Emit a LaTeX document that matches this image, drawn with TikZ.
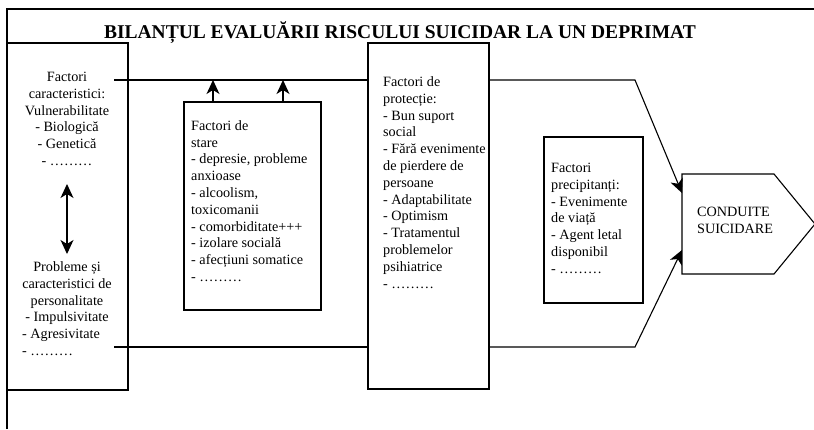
\documentclass[tikz,border=0pt]{standalone}
\usepackage{fontspec}
\setmainfont{Liberation Serif}
\usetikzlibrary{arrows.meta,calc}
\begin{document}
\begin{tikzpicture}[x=1pt,y=-1pt,
  box/.style={draw,line width=1.1pt,fill=white,inner sep=0pt},
  conn/.style={line width=1.1pt},
  tip/.style={Stealth[length=14pt,width=13pt,inset=4pt]},
  arr/.style={line width=1.1pt,-{Stealth[length=14pt,width=13pt,inset=4pt]}},
  darr/.style={line width=1.1pt,{Stealth[length=14pt,width=13pt,inset=4pt]}-{Stealth[length=14pt,width=13pt,inset=4pt]}},
  txt/.style={inner sep=0pt,font=\fontsize{14.2}{16.8}\selectfont},
  ltxt/.style={txt,align=left,anchor=base west},
  ctxt/.style={txt,align=center,anchor=base}]
\useasboundingbox (0,0) rectangle (814,429);
% outer frame
\draw[line width=1.3pt] (7,429) -- (7,9) -- (814,9);
\node[inner sep=0pt,anchor=base,font=\fontsize{19.5}{22}\selectfont\bfseries] (title) at (400,38) {BILANȚUL EVALUĂRII RISCULUI SUICIDAR LA UN DEPRIMAT};
% boxes
\node[box,minimum width=121pt,minimum height=347pt] (left) at (67.5,216.5) {};
\node[box,minimum width=137pt,minimum height=208pt] (stare) at (252.5,206) {};
\node[box,minimum width=121pt,minimum height=346pt] (prot) at (428.5,216) {};
\node[box,minimum width=99pt,minimum height=166pt] (prec) at (593.5,220) {};
% conduite pentagon
\coordinate (cnw) at (682,174);
\coordinate (csw) at (682,274);
\coordinate (cin1) at (682,193);
\coordinate (cin2) at (682,250);
\draw[line width=1.1pt,fill=white] (cnw) -- (774,174) -- (815,224) -- (774,274) -- (csw) -- cycle;
% texts
\node[ctxt] (lt) at (67,165.5) {Factori\\caracteristici:\\Vulnerabilitate\\- Biologică\\- Genetică\\- ………};
\node[ctxt] (lb) at (67,321.9) {Probleme și\\caracteristici de\\personalitate\\- Impulsivitate};
\node[ltxt] (lb2) at (22,355.5) {- Agresivitate\\- ………};
\node[ltxt] (st) at (191,281.5) {Factori de\\stare\\- depresie, probleme\\anxioase\\- alcoolism,\\toxicomanii\\- comorbiditate+++\\- izolare socială\\- afecțiuni somatice\\- ………};
\node[ltxt] (pt) at (383,288.1) {Factori de\\protecție:\\- Bun suport\\social\\- Fără evenimente\\de pierdere de\\persoane\\- Adaptabilitate\\- Optimism\\- Tratamentul\\problemelor\\psihiatrice\\- ………};
\node[ltxt] (pc) at (551,273.3) {Factori\\precipitanți:\\- Evenimente\\de viață\\- Agent letal\\disponibil\\- ………};
\node[ltxt] (ct) at (697,233.3) {CONDUITE\\SUICIDARE};
% connectors
\coordinate (a1) at (114,80);
\coordinate (a2) at (114,347);
\coordinate (b1) at (635,80);
\coordinate (b2) at (635,347);
\coordinate (d1) at (67,184);
\coordinate (d2) at (67,254);
\draw[conn] (a1) -- (a1 -| prot.west);
\draw[conn] (a2) -- (a2 -| prot.west);
\draw[arr] (a1 -| prot.east) -- (b1) -- (cin1);
\draw[arr] (a2 -| prot.east) -- (b2) -- (cin2);
\draw[arr] ([xshift=-39.5pt]stare.north) -- ([xshift=-39.5pt]stare.north |- a1);
\draw[arr] ([xshift=30.5pt]stare.north) -- ([xshift=30.5pt]stare.north |- a1);
\draw[darr] (d1) -- (d2);
\end{tikzpicture}
\end{document}
